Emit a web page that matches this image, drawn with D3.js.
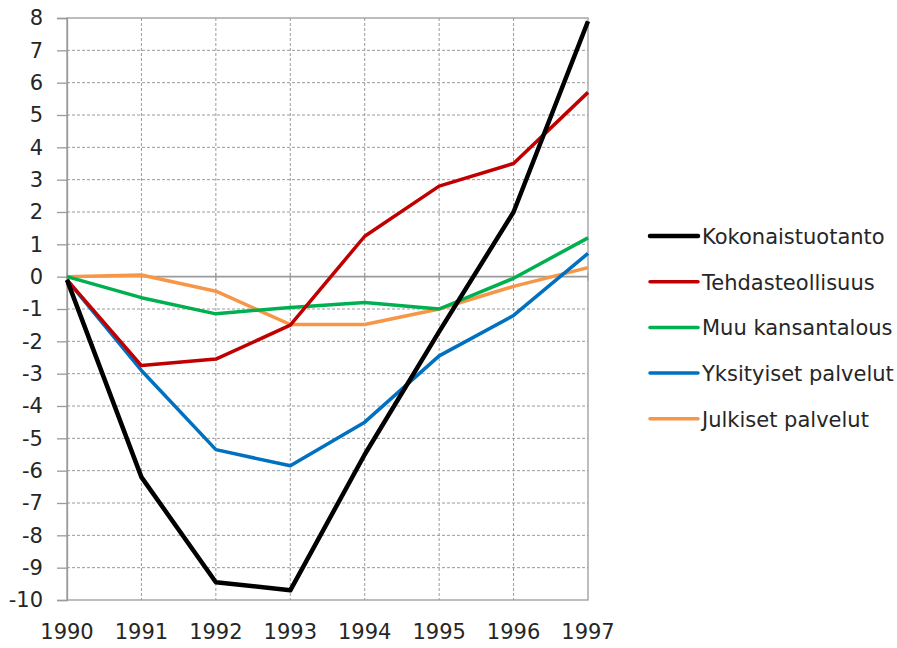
<!DOCTYPE html>
<html>
<head>
<meta charset="utf-8">
<script src="https://cdn.jsdelivr.net/npm/d3@7"></script>
<style>
  body { margin: 0; background: #fff; }
  text { font-family: "DejaVu Sans", sans-serif; fill: #262626; }
</style>
</head>
<body>
<div id="chart"></div>
<script>
const years = [1990, 1991, 1992, 1993, 1994, 1995, 1996, 1997];
const seriesNames = ["Kokonaistuotanto", "Tehdasteollisuus", "Muu kansantalous", "Yksityiset palvelut", "Julkiset palvelut"];
const kokonais = [-0.1, -6.2, -9.45, -9.7, -5.5, -1.7, 2.0, 7.9];
const tehdas = [-0.1, -2.75, -2.55, -1.5, 1.25, 2.8, 3.5, 5.7];
const muu = [0, -0.65, -1.15, -0.95, -0.8, -1.0, -0.05, 1.2];
const yksityiset = [-0.1, -2.9, -5.35, -5.85, -4.5, -2.45, -1.2, 0.72];
const julkiset = [0, 0.05, -0.45, -1.48, -1.48, -1.0, -0.3, 0.28];
const colors = ["#000000", "#c00000", "#00b050", "#0070c0", "#f79646"];
const widths = [4.5, 3.5, 3.5, 3.5, 3.5];
const yTicks = d3.range(-10, 9, 1);

const width = 897, height = 648;
const margin = {top: 18, right: 309, bottom: 48, left: 67};

let svg = d3.select("#chart")
    .append("svg")
    .attr("width", width)
    .attr("height", height);

let x = d3.scaleLinear()
    .domain([1990, 1997])
    .range([margin.left, width - margin.right]);

let y = d3.scaleLinear()
    .domain([-10, 8])
    .range([height - margin.bottom, margin.top]);

// dashed grid
svg.append("g")
    .selectAll("line")
    .data(yTicks.filter(d => d !== 0 && d !== 8 && d !== -10))
    .join("line")
    .attr("x1", x(1990)).attr("x2", x(1997))
    .attr("y1", d => y(d)).attr("y2", d => y(d))
    .attr("stroke", "#9a9a9a")
    .attr("stroke-dasharray", "3,2");

svg.append("g")
    .selectAll("line")
    .data(years.slice(1, -1))
    .join("line")
    .attr("x1", d => x(d)).attr("x2", d => x(d))
    .attr("y1", y(8)).attr("y2", y(-10))
    .attr("stroke", "#9a9a9a")
    .attr("stroke-dasharray", "3,2");

// plot border
svg.append("rect")
    .attr("x", x(1990)).attr("y", y(8))
    .attr("width", x(1997) - x(1990))
    .attr("height", y(-10) - y(8))
    .attr("fill", "none")
    .attr("stroke", "#9a9a9a")
    .attr("stroke-width", 1.3);

// zero line with small ticks
svg.append("line")
    .attr("x1", x(1990)).attr("x2", x(1997))
    .attr("y1", y(0)).attr("y2", y(0))
    .attr("stroke", "#9a9a9a")
    .attr("stroke-width", 1.6);

svg.append("g")
    .selectAll("line")
    .data(years)
    .join("line")
    .attr("x1", d => x(d)).attr("x2", d => x(d))
    .attr("y1", y(0) - 4).attr("y2", y(0) + 4)
    .attr("stroke", "#9a9a9a");

// y axis
let yAxis = svg.append("g")
    .attr("transform", `translate(${margin.left},0)`)
    .call(d3.axisLeft(y).tickValues(yTicks).tickSize(10).tickPadding(14).tickFormat(d => String(d)));
yAxis.select(".domain").attr("stroke", "#9a9a9a").attr("stroke-width", 1.3);
yAxis.selectAll(".tick line").attr("stroke", "#9a9a9a").attr("stroke-width", 1.3);
yAxis.selectAll("text").attr("font-size", 21).style("font-family", "DejaVu Sans").attr("fill", "#262626");

// x labels
svg.append("g")
    .selectAll("text")
    .data(years)
    .join("text")
    .attr("x", d => x(d))
    .attr("y", height - 9)
    .attr("text-anchor", "middle")
    .attr("font-size", 21)
    .text(d => d);

const allSeries = [kokonais, tehdas, muu, yksityiset, julkiset];
let line = d3.line()
    .x((d, i) => x(years[i]))
    .y(d => y(d));

// draw back-to-front so black is on top
let order = [4, 3, 2, 1, 0];
svg.append("g")
    .selectAll("path")
    .data(order)
    .join("path")
    .attr("d", k => line(allSeries[k]))
    .attr("fill", "none")
    .attr("stroke", k => colors[k])
    .attr("stroke-width", k => widths[k])
    .attr("stroke-linejoin", "round");

// legend
let legend = svg.append("g")
    .selectAll("g")
    .data(seriesNames)
    .join("g")
    .attr("transform", (d, i) => `translate(650,${236 + i * 45.7})`);

legend.append("line")
    .attr("x1", 0).attr("x2", 48)
    .attr("stroke", (d, i) => colors[i])
    .attr("stroke-width", (d, i) => widths[i])
    .attr("stroke-linecap", "round");

legend.append("text")
    .attr("x", 52)
    .attr("y", 8)
    .attr("font-size", 21)
    .text(d => d);
</script>
</body>
</html>
